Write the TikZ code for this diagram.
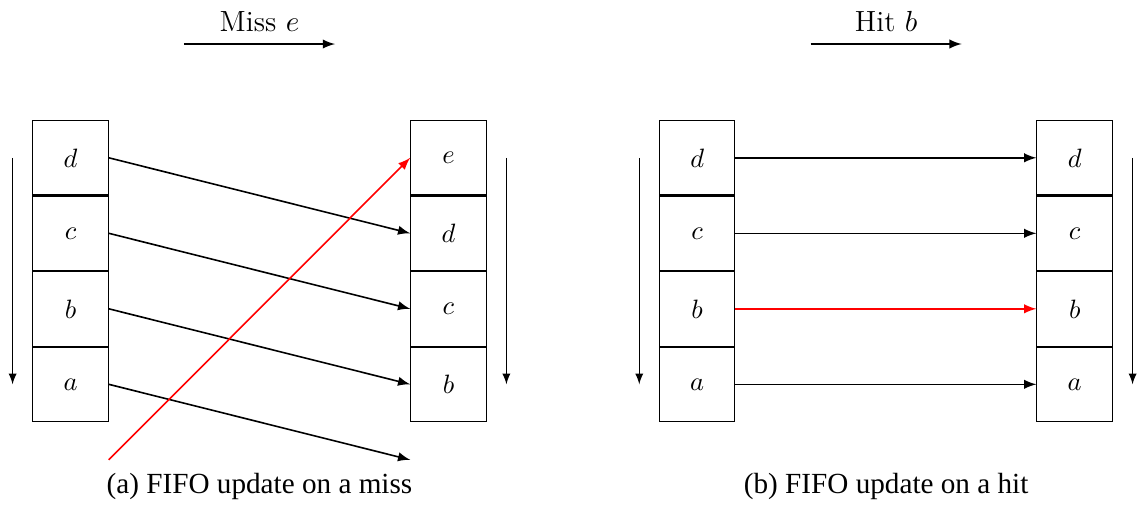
\documentclass[tikz,border=0pt]{standalone}
\usepackage{fontspec}
\newfontfamily\capfont{Liberation Serif}
\usetikzlibrary{arrows, positioning, calc}

\begin{document}
\begin{tikzpicture}[
      cell/.style={draw, minimum width=1cm, minimum height=0.986cm, inner sep=0pt},
      arrow/.style={semithick,->,>=latex},
      order/.style={->,>=latex},
      title/.style={font=\fontsize{11}{13}\selectfont, inner sep=1pt},
      caption/.style={font=\capfont\fontsize{11}{13}\selectfont}
        ]
        \useasboundingbox (0,0) rectangle (15.086,-6.755);

        % Miss: cache before
        \node (md) [cell] at (0.934,-2.09) {$d$};
        \node (mc) [cell, below=0pt of md] {$c$};
        \node (mb) [cell, below=0pt of mc] {$b$};
        \node (ma) [cell, below=0pt of mb] {$a$};

        % Miss: cache after
        \node (me2) [cell] at (5.94,-2.09) {$e$};
        \node (md2) [cell, below=0pt of me2] {$d$};
        \node (mc2) [cell, below=0pt of md2] {$c$};
        \node (mb2) [cell, below=0pt of mc2] {$b$};

        \coordinate (mout) at ([yshift=-1cm]mb2.west);
        \coordinate (min) at ([yshift=-1cm]ma.east);

        % Miss: title arrow
        \coordinate (missL) at (2.437,-0.583);
        \coordinate (missR) at (4.437,-0.583);
        \node (miss) [title, above=0.12cm of $(missL)!0.5!(missR)$] {Miss $e$};
        \draw [arrow] (missL) -- (missR);

        % Miss: shifts
        \draw [arrow] (md.east) -- (md2.west);
        \draw [arrow] (mc.east) -- (mc2.west);
        \draw [arrow] (mb.east) -- (mb2.west);
        \draw [arrow] (ma.east) -- (mout);
        \draw [arrow, red] (min) -- (me2.west);

        % Miss: order arrows
        \draw [order] ([xshift=-0.26cm]md.west) -- ([xshift=-0.26cm]ma.west);
        \draw [order] ([xshift=0.26cm]me2.east) -- ([xshift=0.26cm]mb2.east);

        \node (capa) [caption] at (3.437,-6.44) {(a) FIFO update on a miss};

        % Hit: cache before
        \node (hd) [cell] at (9.234,-2.09) {$d$};
        \node (hc) [cell, below=0pt of hd] {$c$};
        \node (hb) [cell, below=0pt of hc] {$b$};
        \node (ha) [cell, below=0pt of hb] {$a$};

        % Hit: cache after
        \node (hd2) [cell] at (14.234,-2.09) {$d$};
        \node (hc2) [cell, below=0pt of hd2] {$c$};
        \node (hb2) [cell, below=0pt of hc2] {$b$};
        \node (ha2) [cell, below=0pt of hb2] {$a$};

        % Hit: title arrow
        \coordinate (hitL) at (10.737,-0.583);
        \coordinate (hitR) at (12.737,-0.583);
        \node (hit) [title, above=0.12cm of $(hitL)!0.5!(hitR)$] {Hit $b$};
        \draw [arrow] (hitL) -- (hitR);

        % Hit: entries stay
        \draw [arrow] (hd.east) -- (hd2.west);
        \draw [arrow] (hc.east) -- (hc2.west);
        \draw [arrow, red] (hb.east) -- (hb2.west);
        \draw [arrow] (ha.east) -- (ha2.west);

        % Hit: order arrows
        \draw [order] ([xshift=-0.26cm]hd.west) -- ([xshift=-0.26cm]ha.west);
        \draw [order] ([xshift=0.26cm]hd2.east) -- ([xshift=0.26cm]ha2.east);

        \node (capb) [caption] at (11.737,-6.44) {(b) FIFO update on a hit};

          \end{tikzpicture}
\end{document}
